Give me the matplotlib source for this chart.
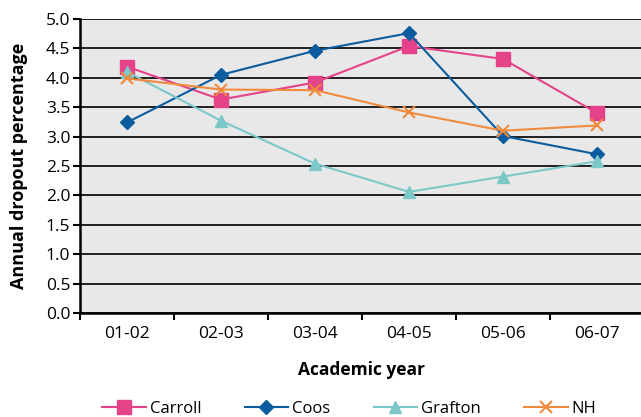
import matplotlib.pyplot as plt

years = ["01-02", "02-03", "03-04", "04-05", "05-06", "06-07"]
carroll = [4.19, 3.63, 3.92, 4.54, 4.32, 3.40]
coos = [3.24, 4.05, 4.46, 4.76, 3.01, 2.70]
grafton = [4.10, 3.27, 2.54, 2.06, 2.32, 2.58]
nh = [3.99, 3.80, 3.79, 3.41, 3.10, 3.19]
yticks = [0.0, 0.5, 1.0, 1.5, 2.0, 2.5, 3.0, 3.5, 4.0, 4.5, 5.0]

plt.rcParams['font.family'] = ['Open Sans', 'DejaVu Sans']


def main():
    fig = plt.figure(figsize=(6.41, 4.17), dpi=100)
    ax = fig.add_axes([80 / 641, 1 - 313 / 417, 564 / 641, 294 / 417])
    ax.set_facecolor('#e8e8e8')
    x = list(range(len(years)))

    ax.plot(x, carroll, color='#e4438a', lw=1.5, marker='s', ms=9.5, label='Carroll')
    ax.plot(x, coos, color='#0b5c9e', lw=1.5, marker='D', ms=7, label='Coos')
    ax.plot(x, grafton, color='#7cc8c8', lw=1.5, marker='^', ms=9, label='Grafton')
    ax.plot(x, nh, color='#f08a3c', lw=1.5, marker='x', ms=9, mew=1.5, label='NH')

    ax.set_xlim(-0.5, len(years) - 0.5)
    ax.set_ylim(0, 5)
    ax.set_yticks(yticks)
    ax.set_yticklabels(["%.1f" % v for v in yticks], fontsize=12.5)
    ax.set_xticks(x)
    ax.set_xticklabels(years, fontsize=12.5)
    ax.set_xticks([i - 0.5 for i in range(len(years) + 1)], minor=True)
    ax.tick_params(axis='x', which='major', length=0, pad=9)
    ax.tick_params(axis='x', which='minor', length=5, width=1.5, direction='out')
    ax.tick_params(axis='y', length=5, width=1.5, direction='out', pad=2)
    ax.yaxis.grid(True, color='#111111', lw=1.3)
    ax.set_axisbelow(True)
    for s in ['top', 'right']:
        ax.spines[s].set_visible(False)
    for s in ['left', 'bottom']:
        ax.spines[s].set_linewidth(1.8)

    ax.set_xlabel('Academic year', fontsize=12.5, fontweight='bold', labelpad=14)
    ax.set_ylabel('Annual dropout percentage', fontsize=13, fontweight='bold', labelpad=13)

    fig.legend(loc='lower center', bbox_to_anchor=(0.545, -0.035), ncol=4, frameon=False,
               fontsize=12, columnspacing=2.6, handlelength=2.6, handletextpad=0.25)

    fig.savefig('out.png', dpi=100)


if __name__ == '__main__':
    main()
